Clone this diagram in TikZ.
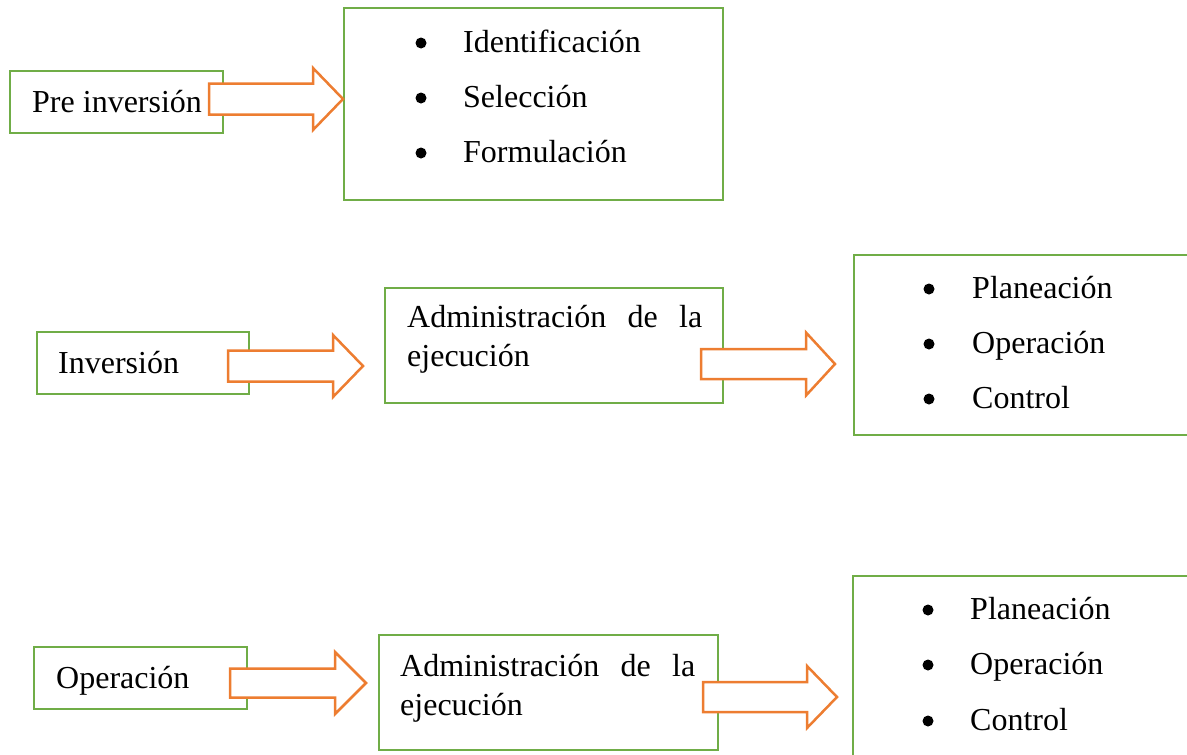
\documentclass[tikz,border=0pt]{standalone}
\usepackage{fontspec}
\setmainfont{Liberation Serif}
\definecolor{boxgreen}{HTML}{70AD47}
\definecolor{arrorange}{HTML}{ED7D31}
\newcommand\blockarrow[6]{%
  \draw[blkarrow] (#1,#4-#5) -- (#2,#4-#5) -- (#2,#4-#6) -- (#3,#4) -- (#2,#4+#6) -- (#2,#4+#5) -- (#1,#4+#5) -- cycle;}
\tikzset{
  gbox/.style={draw=boxgreen, line width=2.8pt, rectangle, inner sep=0pt, outer sep=0pt, anchor=north west},
  blkarrow/.style={draw=arrorange, line width=2.5pt, fill=white, line join=miter},
  txt/.style={inner sep=0pt, anchor=base west, font=\fontsize{32}{39}\selectfont},
  bul/.style={circle, fill=black, inner sep=0pt, minimum size=11pt, yshift=9pt}
}
\begin{document}
\begin{tikzpicture}[x=1pt,y=-1pt]
\useasboundingbox (0,0) rectangle (1187,755);
% Row 1
\node[gbox, minimum width=213pt, minimum height=62pt] (pre) at (10,71) {};
\node[gbox, minimum width=379pt, minimum height=192pt] (list1) at (344,8) {};
\blockarrow{209}{313}{343}{99}{15.5}{31}
\node[txt] (pretxt) at (32,112) {Pre inversión};
\node[bul] (b11) at (421,52) {};
\node[bul] (b12) at (421,107) {};
\node[bul] (b13) at (421,162) {};
\node[txt] (l11) at (463,52) {Identificación};
\node[txt] (l12) at (463,107) {Selección};
\node[txt] (l13) at (463,162) {Formulación};
% Row 2
\node[gbox, minimum width=212pt, minimum height=62pt] (inv) at (37,332) {};
\node[gbox, minimum width=338pt, minimum height=115pt] (adm1) at (385,288) {};
\node[gbox, minimum width=360pt, minimum height=180pt] (list2) at (854,255) {};
\blockarrow{228}{333}{363}{366}{15.5}{31}
\blockarrow{701}{806}{835}{364}{15}{31.5}
\node[txt] (invtxt) at (58,373) {Inversión};
\node[txt] (adm1a) at (407,327) {\hbox to 295pt{Administración\hfill de\hfill la}};
\node[txt] (adm1b) at (407,366) {ejecución};
\node[bul] (b21) at (929,298) {};
\node[bul] (b22) at (929,353) {};
\node[bul] (b23) at (929,408) {};
\node[txt] (l21) at (972,298) {Planeación};
\node[txt] (l22) at (972,353) {Operación};
\node[txt] (l23) at (972,408) {Control};
% Row 3
\node[gbox, minimum width=213pt, minimum height=62pt] (ope) at (34,647) {};
\node[gbox, minimum width=339pt, minimum height=115pt] (adm2) at (379,635) {};
\node[gbox, minimum width=360pt, minimum height=200pt] (list3) at (853,576) {};
\blockarrow{230}{335}{366}{683}{14.5}{31}
\blockarrow{703}{807}{837}{697}{15}{31}
\node[txt] (opetxt) at (56,688) {Operación};
\node[txt] (adm2a) at (400,676) {\hbox to 295pt{Administración\hfill de\hfill la}};
\node[txt] (adm2b) at (400,715) {ejecución};
\node[bul] (b31) at (928,619) {};
\node[bul] (b32) at (928,674) {};
\node[bul] (b33) at (928,730) {};
\node[txt] (l31) at (970,619) {Planeación};
\node[txt] (l32) at (970,674) {Operación};
\node[txt] (l33) at (970,730) {Control};
\end{tikzpicture}
\end{document}
